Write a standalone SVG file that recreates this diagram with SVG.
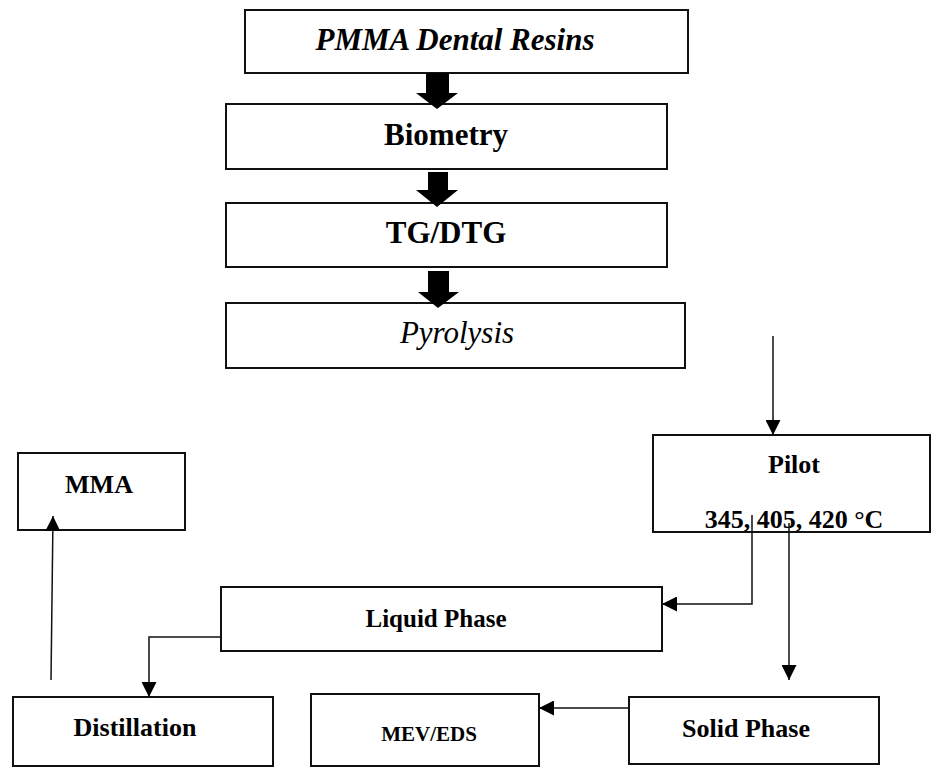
<svg xmlns="http://www.w3.org/2000/svg" width="931" height="767" viewBox="0 0 931 767">
<style>
.box{fill:#fff;stroke:#111;stroke-width:2}
.t{font-family:"Liberation Serif","Times New Roman",serif;font-weight:bold;fill:#000;text-anchor:middle}
.ti{font-family:"Liberation Serif","Times New Roman",serif;font-style:italic;fill:#000;text-anchor:middle}
.c{fill:none;stroke:#111;stroke-width:1.5;marker-end:url(#ah)}
.blk{fill:#000}
</style>
<defs>
<marker id="ah" viewBox="0 0 15 15" refX="15" refY="7.5" markerWidth="15" markerHeight="15" markerUnits="userSpaceOnUse" orient="auto">
<path d="M0,0 L15,7.5 L0,15 z" fill="#000"/>
</marker>
</defs>
<g id="pmma">
<rect class="box" x="245" y="10" width="443" height="63"/>
<text class="ti" x="455" y="50" font-size="31" font-weight="bold">PMMA Dental Resins</text>
</g>
<g id="biometry">
<rect class="box" x="226" y="104" width="441" height="65"/>
<text class="t" x="446" y="145" font-size="31">Biometry</text>
</g>
<g id="tgdtg">
<rect class="box" x="226" y="203" width="441" height="64"/>
<text class="t" x="446" y="243" font-size="31">TG/DTG</text>
</g>
<g id="pyrolysis">
<rect class="box" x="226" y="303" width="459" height="65"/>
<text class="ti" x="457" y="343" font-size="31">Pyrolysis</text>
</g>
<g id="pilot">
<rect class="box" x="653" y="435" width="277" height="97"/>
<text class="t" x="794" y="473" font-size="26">Pilot</text>
<text class="t" x="794" y="528" font-size="26">345, 405, 420 °C</text>
</g>
<g id="mma">
<rect class="box" x="18" y="453" width="167" height="77"/>
<text class="t" x="99" y="493" font-size="26">MMA</text>
</g>
<g id="liquid">
<rect class="box" x="221" y="587" width="441" height="64"/>
<text class="t" x="436" y="627" font-size="25">Liquid Phase</text>
</g>
<g id="distillation">
<rect class="box" x="13" y="697" width="260" height="69"/>
<text class="t" x="135" y="736" font-size="26">Distillation</text>
</g>
<g id="mevEds">
<rect class="box" x="311" y="694" width="228" height="72"/>
<text class="t" x="429" y="741" font-size="21">MEV/EDS</text>
</g>
<g id="solid">
<rect class="box" x="629" y="697" width="250" height="67"/>
<text class="t" x="746" y="737" font-size="26">Solid Phase</text>
</g>
<g id="connectors">
<polygon class="blk" points="426,73 449,73 449,93 458,93 437,109 416,93 426,93"/>
<polygon class="blk" points="428,172 448,172 448,190 458,190 437,207 416,190 428,190"/>
<polygon class="blk" points="428,271 449,271 449,292 459,292 438,308 418,292 428,292"/>
<path class="c" d="M773,336 L773,435"/>
<path class="c" d="M752,515 L752,604 L662,604"/>
<path class="c" d="M789,523 L789,680"/>
<path class="c" d="M221,637 L149,637 L149,697"/>
<path class="c" d="M51,680 L53,516"/>
<path class="c" d="M629,708 L539,708"/>
</g>
</svg>
